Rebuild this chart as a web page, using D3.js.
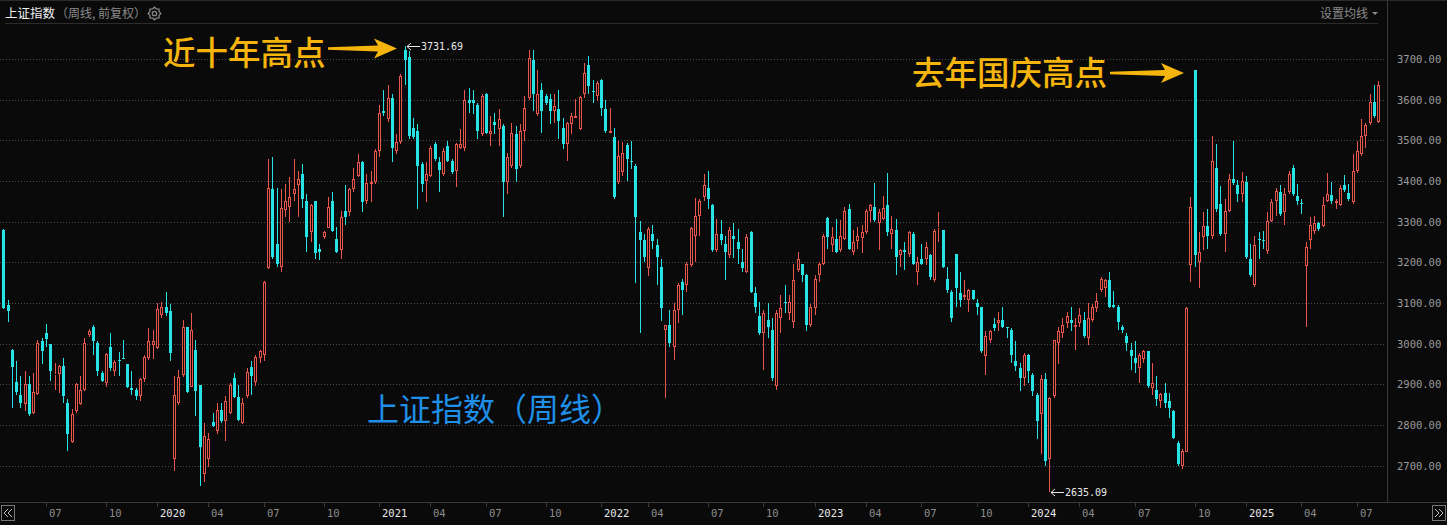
<!DOCTYPE html>
<html><head><meta charset="utf-8">
<script src="https://cdn.jsdelivr.net/npm/d3@7"></script>
<style>html,body{margin:0;padding:0;background:#0a0a0a;overflow:hidden}</style>
</head><body><svg id="c" width="1447" height="525"></svg>
<script>
// Weekly OHLC [open, high, low, close]
const w2019 = [[3279,3281,3085,3087],[3094,3108,3053,3081],[2985,2988,2843,2942],[2906,2957,2875,2882],[2875,2920,2843,2855],[2851,2934,2834,2900],[2901,2920,2822,2826],[2829,2928,2827,2882],[2877,3010,2875,3001],[3006,3014,2950,2981],
[3026,3048,2993,3012],[2999,3000,2908,2932],[2923,2953,2887,2926],[2926,2948,2879,2946],[2944,2965,2855,2871],[2855,2863,2736,2777],[2759,2839,2757,2826],[2835,2904,2830,2900],[2851,2920,2849,2887],[2885,3014,2883,3001],
[3022,3037,3016,3032],[3042,3046,2973,3007],[3002,3006,2920,2934],[2928,2932,2906,2908],[2904,2977,2893,2975],[2993,3026,2934,2939],[2934,2961,2920,2955],[2961,2979,2920,2958],[2966,3010,2963,2963],[2950,2950,2891,2893],
[2891,2934,2875,2887],[2887,2891,2861,2871],[2871,2916,2859,2914],[2914,2971,2906,2967],[2965,3038,2961,3006],[2998,3034,2963,3006]];
const w2020 = [[2989,3099,2988,3085],[3071,3103,3063,3091],[3091,3128,3067,3075],[3081,3097,2957,2977],[2716,2920,2688,2875],
[2855,2936,2850,2917],[2922,3059,2918,3040],[3040,3042,2879,2882],[2894,3075,2893,3034],[2985,3010,2822,2883],[2899,2899,2651,2745],[2680,2806,2660,2773],[2716,2781,2696,2765],[2808,2830,2794,2798],[2786,2855,2778,2838],
[2838,2855,2806,2810],[2810,2871,2761,2860],[2830,2903,2826,2899],[2915,2927,2867,2870],[2870,2899,2809,2813],[2806,2867,2802,2853],[2871,2940,2867,2930],[2942,2957,2875,2920],[2906,2973,2896,2967],[2965,2985,2953,2981],
[2973,3154,2957,3152],[3187,3455,3183,3382],[3380,3458,3209,3213],[3244,3382,3189,3197],[3189,3381,3177,3333],[3328,3393,3311,3352],[3336,3409,3298,3360],[3368,3455,3352,3380],[3389,3425,3311,3405],[3417,3442,3333,3356],
[3352,3368,3225,3262],[3275,3344,3250,3340],[3350,3352,3209,3222],[3234,3246,3205,3226],[3262,3278,3258,3274],[3284,3360,3284,3336],[3352,3372,3274,3278],[3258,3287,3222,3226],[3230,3327,3209,3311],[3327,3389,3291,3311],
[3323,3384,3315,3380],[3380,3433,3372,3406],[3413,3466,3409,3446],[3447,3450,3323,3348],[3352,3417,3344,3395],[3393,3425,3348,3397],[3397,3478,3393,3474]];
const w2021 = [[3474,3588,3458,3568],[3572,3623,3560,3566],[3552,3637,3544,3605],[3605,3613,3446,3482],[3474,3515,3466,3495],[3495,3662,3491,3658],[3723,3731.69,3637,3698],[3706,3719,3503,3511],[3531,3556,3503,3507],[3523,3539,3330,3438],
[3442,3446,3372,3393],[3401,3446,3348,3417],[3413,3486,3409,3482],[3491,3496,3450,3454],[3447,3460,3374,3428],[3417,3482,3413,3474],[3485,3499,3446,3450],[3450,3454,3417,3421],[3425,3493,3385,3491],[3482,3527,3478,3491],
[3482,3625,3474,3600],[3600,3629,3568,3592],[3598,3625,3564,3592],[3588,3592,3503,3523],[3515,3613,3511,3609],[3613,3617,3515,3519],[3515,3560,3486,3523],[3544,3568,3515,3537],[3527,3578,3486,3552],[3535,3539,3311,3397],
[3397,3470,3368,3458],[3437,3543,3433,3519],[3515,3535,3397,3429],[3437,3539,3433,3523],[3523,3610,3499,3580],[3605,3723,3600,3702],[3698,3723,3572,3613],[3564,3674,3560,3613],[3625,3640,3519,3572],[3609,3613,3588,3592],
[3602,3613,3539,3572],[3572,3613,3543,3584],[3576,3623,3503,3548],[3531,3556,3478,3490],[3490,3545,3450,3542],[3540,3566,3515,3560],[3556,3602,3556,3560],[3527,3610,3526,3607],[3613,3690,3605,3666],[3686,3708,3613,3633],
[3621,3649,3592,3620],[3609,3645,3596,3641]];
const w2022 = [[3649,3651,3560,3580],[3576,3600,3519,3523],[3519,3580,3517,3523],[3507,3531,3356,3360],[3397,3499,3393,3462],[3421,3496,3413,3470],[3488,3493,3401,3454],[3450,3499,3429,3447],[3437,3442,3148,3311],[3274,3301,3026,3254],
[3254,3270,3201,3213],[3186,3287,3166,3283],[3270,3291,3234,3252],[3242,3258,3144,3213],[3189,3209,3055,3087],[3034,3046,2867,3046],[3046,3083,2993,3002],[2993,3099,2961,3083],[3083,3148,3050,3144],[3152,3160,3071,3132],
[3144,3201,3128,3195],[3193,3287,3189,3284],[3266,3358,3201,3315],[3315,3356,3266,3350],[3360,3417,3352,3389],[3382,3425,3332,3356],[3342,3344,3226,3230],[3230,3307,3226,3270],[3270,3303,3242,3254],[3246,3266,3156,3226],
[3219,3287,3211,3280],[3266,3297,3211,3258],[3250,3283,3197,3234],[3201,3234,3177,3185],[3177,3270,3173,3262],[3274,3278,3124,3128],[3124,3140,3075,3091],[3067,3103,3022,3026],[3026,3083,2936,3075],[3059,3099,3014,3040],
[3034,3062,2908,2915],[2895,3083,2887,3075],[3063,3120,3026,3087],[3103,3144,3075,3099],[3075,3120,3058,3103],[3054,3197,3038,3156],[3181,3226,3177,3209],[3197,3197,3152,3168],[3168,3172,3030,3046],[3046,3097,3042,3091]];
const w2023 = [[3087,3168,3071,3160],[3168,3201,3152,3195],[3197,3270,3193,3266],[3309,3311,3234,3262],[3242,3287,3226,3262],[3258,3307,3222,3225],[3230,3303,3226,3266],[3258,3336,3254,3327],[3331,3344,3230,3234],[3226,3279,3218,3250],
[3252,3287,3234,3266],[3260,3291,3222,3274],[3274,3331,3270,3327],[3327,3344,3299,3340],[3336,3395,3299,3303],[3297,3331,3230,3323],[3307,3364,3303,3333],[3340,3419,3266,3274],[3270,3315,3234,3281],[3279,3307,3168,3213],
[3217,3234,3189,3230],[3230,3250,3181,3226],[3221,3278,3213,3274],[3270,3274,3193,3197],[3177,3213,3144,3201],[3209,3246,3193,3197],[3209,3250,3193,3238],[3219,3221,3156,3164],[3156,3281,3152,3278],[3284,3323,3250,3287],
[3279,3279,3185,3189],[3160,3189,3124,3132],[3128,3132,3054,3062],[3221,3221,3091,3136],[3124,3177,3091,3107],[3115,3156,3107,3119],[3107,3134,3079,3132],[3132,3132,3107,3111],[3099,3111,3071,3091],[3091,3091,2977,2981],
[2969,3030,2924,3018],[3010,3034,3002,3030],[3048,3064,3030,3038],[3050,3079,3030,3058],[3058,3089,3038,3042],[3041,3042,3014,3038],[3034,3038,2953,2973],[2957,3006,2932,2944],[2940,2953,2883,2916],[2916,2977,2896,2973]];
const w2024 = [[2973,2975,2904,2932],[2924,2928,2871,2883],[2875,2879,2765,2810],[2826,2924,2728,2912],[2912,2928,2700,2712],[2716,2869,2635.09,2867],[2871,3010,2867,3010],[3002,3042,2949,3030],[3026,3063,3014,3046],[3050,3079,3038,3067],
[3058,3089,3030,3050],[3042,3063,2985,3046],[3050,3087,3042,3071],[3058,3079,3014,3018],[3014,3099,2998,3062],[3058,3097,3054,3091],[3087,3124,3079,3105],[3132,3165,3128,3159],[3136,3160,3116,3156],[3156,3177,3087,3091],
[3095,3130,3087,3089],[3089,3095,3034,3054],[3042,3046,3026,3034],[3018,3026,2981,3002],[2985,3001,2936,2969],[2965,3006,2928,2953],[2940,2977,2904,2973],[2963,2985,2953,2981],[2981,2981,2892,2896],[2891,2952,2875,2904],
[2887,2920,2847,2863],[2860,2879,2843,2877],[2879,2904,2843,2855],[2859,2879,2818,2843],[2834,2838,2765,2769],[2757,2761,2700,2704],[2700,2741,2692,2737],[2733,3089,2733,3087],[3193,3360,3152,3336],[3674,3674,3189,3217],
[3201,3275,3136,3226],[3262,3323,3230,3290],[3290,3331,3234,3266],[3266,3511,3258,3450],[3431,3491,3323,3331],[3343,3388,3266,3270],[3270,3356,3225,3327],[3327,3417,3323,3405],[3405,3499,3389,3395],[3391,3403,3348,3368],
[3368,3421,3348,3399]];
const w2025 = [[3397,3413,3209,3213],[3209,3246,3164,3168],[3144,3266,3140,3242],[3258,3274,3209,3254],[3256,3276,3234,3252],[3228,3323,3221,3301],[3301,3356,3299,3348],[3352,3384,3315,3376],[3372,3389,3315,3319],
[3323,3384,3293,3368],[3372,3425,3368,3417],[3433,3439,3364,3368],[3364,3393,3340,3352],[3346,3356,3319,3344],[3190,3250,3042,3238],[3254,3311,3234,3291],[3276,3315,3270,3297],[3297,3299,3276,3283],[3289,3360,3287,3342],
[3352,3419,3348,3368],[3366,3397,3344,3350],[3346,3356,3332,3350],[3340,3389,3338,3384],[3390,3415,3372,3379],[3371,3393,3352,3356],[3348,3466,3344,3425],[3425,3499,3419,3474],[3466,3553,3462,3511],[3511,3542,3482,3537],
[3542,3613,3537,3594],[3594,3636,3556,3560],[3545,3645,3542,3635]];

const tickIndex  = [10,24,36,48,61,75,88,100,113,127,140,151,165,178,190,202,215,228,240,252,265,279,291,304,317];
const tickLabels = ["07","10","2020","04","07","10","2021","04","07","10","2022","04","07","10","2023","04","07","10","2024","04","07","10","2025","04","07"];
const priceTicks = [2700,2800,2900,3000,3100,3200,3300,3400,3500,3600,3700];

const W = 1447, H = 525;
const plotRight = 1387, plotTop = 24, plotBottom = 502;
const UP = "#e8564c", DOWN = "#27e3e6", BG = "#0a0a0a";
const CJK = "'Noto Sans CJK SC','Noto Sans',sans-serif";
const MONO = "'DejaVu Sans Mono','Liberation Mono',monospace";

const data = [].concat(w2019, w2020, w2021, w2022, w2023, w2024, w2025)
  .map((d, i) => ({i, o: d[0], h: d[1], l: d[2], c: d[3]}));
const N = data.length;
const step = 4.27, firstCenter = 3.3;
const x = d3.scaleBand().domain(d3.range(N))
  .range([firstCenter - step / 2, firstCenter - step / 2 + N * step]).padding(0);
const cx = i => Math.round(x(i) + x.bandwidth() / 2);
const y = d3.scaleLinear().domain([2700, 3700]).range([465.7, 59]);

const svg = d3.select("#c");
svg.append("rect").attr("width", W).attr("height", H).attr("fill", BG);

// frame lines
const frame = svg.append("g").attr("shape-rendering", "crispEdges");
frame.append("line").attr("x1", 0).attr("x2", W).attr("y1", 0.5).attr("y2", 0.5).attr("stroke", "#2a2a2a");
frame.append("line").attr("x1", 5).attr("x2", 1378).attr("y1", 23.5).attr("y2", 23.5).attr("stroke", "#2c2c2c");
frame.append("line").attr("x1", plotRight + 0.5).attr("x2", plotRight + 0.5).attr("y1", 0).attr("y2", plotBottom).attr("stroke", "#3a3a3a");
frame.append("line").attr("x1", 0).attr("x2", W).attr("y1", plotBottom + 0.5).attr("y2", plotBottom + 0.5).attr("stroke", "#3a3a3a");

// grid
const grid = svg.append("g").attr("shape-rendering", "crispEdges");
grid.selectAll("line").data(priceTicks).join("line")
  .attr("x1", 0).attr("x2", 1384)
  .attr("y1", d => Math.round(y(d)) + 0.5).attr("y2", d => Math.round(y(d)) + 0.5)
  .attr("stroke", "#4a4a4a").attr("stroke-dasharray", "1,2");

// right axis labels
svg.append("g").selectAll("text").data(priceTicks).join("text")
  .attr("x", 1397).attr("y", d => y(d) + 4)
  .attr("fill", "#9a9a9a").attr("font-family", MONO).attr("font-size", 10.5)
  .text(d => d.toFixed(2));

// bottom axis
const bt = svg.append("g");
bt.selectAll("line").data(tickIndex).join("line")
  .attr("x1", d => cx(d) + 0.5).attr("x2", d => cx(d) + 0.5)
  .attr("y1", plotBottom + 1).attr("y2", plotBottom + 5)
  .attr("stroke", "#3a3a3a").attr("shape-rendering", "crispEdges");
bt.selectAll("text").data(tickIndex).join("text")
  .attr("x", d => cx(d) + 3).attr("y", 517)
  .attr("fill", (d, k) => tickLabels[k].length === 4 ? "#e8e8e8" : "#8c8c8c")
  .attr("font-family", MONO).attr("font-size", 10.5)
  .text((d, k) => tickLabels[k]);

// scroll buttons
function navBtn(x0, dir) {
  const g = svg.append("g");
  g.append("rect").attr("x", x0 + 0.5).attr("y", 505.5).attr("width", 13).attr("height", 15)
    .attr("fill", "none").attr("stroke", "#777").attr("shape-rendering", "crispEdges");
  const c = x0 + 7, s = dir;
  [-2, 2].forEach(o => {
    g.append("path").attr("d", `M${c + o - 2 * s},${509} L${c + o + 2 * s},${513} L${c + o - 2 * s},${517}`)
      .attr("fill", "none").attr("stroke", "#bbb").attr("stroke-width", 1);
  });
}
navBtn(1, -1);
navBtn(1432, 1);

// candles
svg.append("clipPath").attr("id", "pc").append("rect")
  .attr("x", 0).attr("y", plotTop).attr("width", plotRight).attr("height", plotBottom - plotTop);
const cg = svg.append("g").attr("clip-path", "url(#pc)").attr("shape-rendering", "crispEdges");
data.forEach(d => {
  const px = cx(d.i);
  const up = d.c >= d.o;
  const col = up ? UP : DOWN;
  const top = Math.round(y(Math.max(d.o, d.c)));
  let bot = Math.round(y(Math.min(d.o, d.c)));
  if (bot - top < 1) bot = top + 1;
  const yh = Math.round(y(Math.max(d.h, d.o, d.c)));
  const yl = Math.round(y(Math.min(d.l, d.o, d.c)));
  if (up) {
    if (yh < top) cg.append("line").attr("x1", px + 0.5).attr("x2", px + 0.5).attr("y1", yh).attr("y2", top).attr("stroke", col);
    if (yl > bot) cg.append("line").attr("x1", px + 0.5).attr("x2", px + 0.5).attr("y1", bot).attr("y2", yl).attr("stroke", col);
    cg.append("rect").attr("x", px - 0.5).attr("y", top + 0.5).attr("width", 2).attr("height", Math.max(bot - top - 1, 0))
      .attr("fill", BG).attr("stroke", col).attr("stroke-width", 1);
  } else {
    cg.append("line").attr("x1", px + 0.5).attr("x2", px + 0.5).attr("y1", yh).attr("y2", yl).attr("stroke", col);
    cg.append("rect").attr("x", px - 1).attr("y", top).attr("width", 3).attr("height", bot - top).attr("fill", col);
  }
});

// extreme markers
function extremeLabel(idx, val) {
  const px = cx(idx) + 2, py = Math.round(y(val));
  const g = svg.append("g").attr("stroke", "#e8e8e8").attr("fill", "none").attr("stroke-width", 1);
  g.append("line").attr("x1", px).attr("x2", px + 13).attr("y1", py + 0.5).attr("y2", py + 0.5);
  g.append("path").attr("d", `M${px + 4},${py - 3} L${px},${py + 0.5} L${px + 4},${py + 4}`);
  svg.append("text").attr("x", px + 14).attr("y", py + 4).attr("fill", "#e8e8e8")
    .attr("font-family", MONO).attr("font-size", 10).text(val.toFixed(2));
}
const hiIdx = d3.maxIndex(data, d => d.h), loIdx = d3.minIndex(data, d => d.l);
extremeLabel(hiIdx, data[hiIdx].h);
extremeLabel(loIdx, data[loIdx].l);

// header
svg.append("text").attr("x", 5).attr("y", 18).attr("fill", "#f0f0f0").attr("font-family", CJK).attr("font-size", 12.5).text("上证指数");
svg.append("text").attr("x", 56).attr("y", 18).attr("fill", "#8a8a8a").attr("font-family", CJK).attr("font-size", 12).text("（周线, 前复权）");
(function gear(gx, gy) {
  const g = svg.append("g").attr("fill", "none").attr("stroke", "#8a8a8a").attr("stroke-width", 1.3);
  const pts = [];
  for (let k = 0; k < 16; k++) {
    const a = k * Math.PI / 8, r = (k % 2 === 0) ? 6.3 : 5;
    pts.push([gx + r * Math.cos(a), gy + r * Math.sin(a)]);
  }
  g.append("path").attr("d", "M" + pts.map(p => p.join(",")).join("L") + "Z");
  g.append("circle").attr("cx", gx).attr("cy", gy).attr("r", 2.2);
})(154.5, 13.5);
svg.append("text").attr("x", 1320).attr("y", 18).attr("fill", "#8a8a8a").attr("font-family", CJK).attr("font-size", 12).text("设置均线");
svg.append("path").attr("d", "M1372,12 L1378,12 L1375,15 Z").attr("fill", "#8a8a8a");

// annotations
const GOLD = "#f5b50c";
function arrow(x0, x1, yc) {
  const xh = x1 - 19;
  const pts = [[x0, yc - 1.2], [xh, yc - 3], [xh - 4, yc - 10], [x1, yc], [xh - 4, yc + 10], [xh, yc + 3], [x0, yc + 1.2]];
  svg.append("path").attr("d", "M" + pts.map(p => p.join(",")).join("L") + "Z").attr("fill", GOLD);
}
svg.append("text").attr("x", 163).attr("y", 50).attr("dominant-baseline", "central")
  .attr("fill", GOLD).attr("font-family", CJK).attr("font-size", 32.5).attr("font-weight", 500).text("近十年高点");
arrow(328, 397, 48.5);
svg.append("text").attr("x", 912).attr("y", 70).attr("dominant-baseline", "central")
  .attr("fill", GOLD).attr("font-family", CJK).attr("font-size", 32.5).attr("font-weight", 500).text("去年国庆高点");
arrow(1110, 1184, 73);
svg.append("text").attr("x", 367).attr("y", 407).attr("dominant-baseline", "central")
  .attr("fill", "#1f8fe8").attr("font-family", CJK).attr("font-size", 32).text("上证指数（周线）");
</script></body></html>
